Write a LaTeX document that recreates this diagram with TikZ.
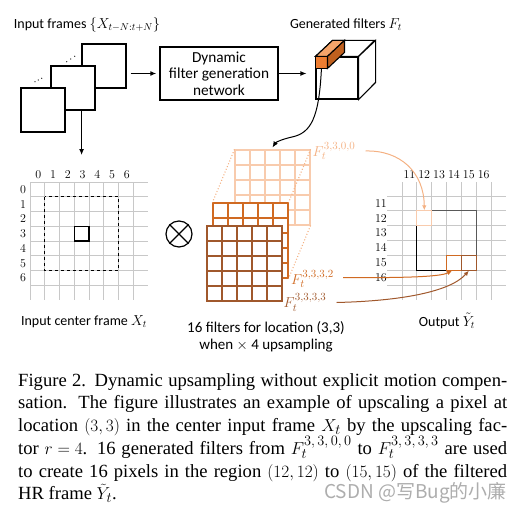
\documentclass[tikz,border=0pt]{standalone}
\usepackage{fontspec}
\setmainfont{Carlito}
\newfontfamily\capfont{Liberation Serif}
\newfontfamily\cjkfont{Noto Sans CJK SC}
\usetikzlibrary{arrows.meta}
\DeclareMathSizes{18.6}{18.6}{15}{11.5}
\DeclareMathSizes{14.5}{14.5}{11.3}{9}
\definecolor{lor}{HTML}{F8CBAD}
\definecolor{lorarr}{HTML}{F4B183}
\definecolor{mor}{HTML}{D06A22}
\definecolor{bor}{HTML}{A0582C}
\definecolor{gridgray}{HTML}{C8C8C8}
\definecolor{barfront}{HTML}{ED7D31}
\definecolor{bartop}{HTML}{F4A46A}
\definecolor{barside}{HTML}{C0601E}
\newcommand\filtgrid[3]{%
  \foreach \k in {1,...,4}{%
    \draw[#3, line width=1.1pt] ({#1+15*\k},#2) -- ({#1+15*\k},{#2+75});
    \draw[#3, line width=1.1pt] (#1,{#2+15*\k}) -- ({#1+75},{#2+15*\k});
  }}
\begin{document}
\begin{tikzpicture}[x=1pt,y=-1pt,
  lbl/.style={font=\fontsize{14}{16.5}\selectfont, inner sep=0},
  num/.style={font=\fontsize{12.3}{12.5}\selectfont, inner sep=0},
  flbl/.style={font=\fontsize{14.5}{16}\selectfont, inner sep=0},
  frame/.style={draw, line width=1.1pt, fill=white, minimum size=44pt, inner sep=0},
  arr/.style={-{Latex[length=6pt,width=5pt]}, line width=1.1pt},
  gridline/.style={draw=gridgray, line width=1pt},
  fbox/.style={minimum size=75pt, inner sep=0, fill=white, line width=1.1pt},
  cell/.style={minimum size=14.85pt, inner sep=0, line width=1.1pt}]
\useasboundingbox (0,0) rectangle (522,511);

% ---- input frames
\node[lbl] (inframes) at (87,25) {Input frames $\{X_{t-N:t+N}\}$};
\node[frame] (fb) at (104,66) {};
\node[frame] (fm) at (73,88) {};
\node[frame] (ff) at (43,110) {};
\foreach \p in {(66.7,61.7),(70.7,59),(74.7,56.3),(35,81.7),(38.3,80),(41.7,78.3)}
  \fill \p circle (0.6);

% ---- network box
\node[draw, line width=1.5pt, minimum width=118pt, minimum height=53pt, align=center, inner sep=0,
  font=\fontsize{15.3}{16.5}\selectfont] (net) at (219,73.5) {Dynamic\\filter generation\\network};
\draw[arr] ([xshift=4pt]fb.east |- net.west) -- ([xshift=-3pt]net.west);

% ---- cube
\node[lbl] (genf) at (346,25) {Generated filters $F_t$};
\node[draw, line width=1.1pt, minimum size=42pt, inner sep=0, fill=white] (cube) at (337,78) {};
\draw[line width=1.1pt, fill=white] (cube.north west) -- ++(17,-16) -- ++(42,0) -- (cube.north east) -- cycle;
\draw[line width=1.1pt, fill=white] (cube.north east) -- ++(17,-16) -- ++(0,42) -- (cube.south east) -- cycle;
\coordinate (b0) at (cube.north west);
\draw[line width=1.1pt, fill=barfront] (b0) rectangle ++(12,12);
\draw[line width=1.1pt, fill=bartop] (b0) -- ++(17,-16) -- ++(12,0) -- ++(-17,16) -- cycle;
\draw[line width=1.1pt, fill=barside] ([xshift=12pt]b0) -- ++(17,-16) -- ++(0,12) -- ++(-17,16) -- cycle;
\coordinate (barbot) at ([xshift=6pt,yshift=-12pt]b0);
\draw[arr] (net.east) -- ([xshift=-9pt]cube.west |- net.east);

% ---- input center frame grid
\foreach \i in {0,...,7}{
  \draw[gridline] ({30+14.75*\i},182) -- ({30+14.75*\i},300);
  \draw[gridline] (30,{182+14.75*\i}) -- (148,{182+14.75*\i});
}
\foreach \i in {0,...,6}{
  \node[num] (c\i) at ({38.4+14.75*\i},174.5) {$\i$};
  \node[num] (r\i) at (23,{189.4+14.75*\i}) {$\i$};
}
\draw[dashed, line width=1pt] (44.75,196.75) rectangle (118.5,270.5);
\draw[line width=1.2pt] (74.25,226.25) rectangle (89,241);
\node[lbl] (inlbl) at (84,322) {Input center frame $X_t$};
\coordinate (dn) at (81.6,155);
\draw[arr] (fm.south -| dn) -- (dn);

% ---- otimes
\node[draw, circle, line width=1.2pt, minimum size=26pt, inner sep=0] (ot) at (179,234) {};
\draw[line width=1.2pt] (ot.north west) -- (ot.south east);
\draw[line width=1.2pt] (ot.north east) -- (ot.south west);

% ---- filter stack
\node[fbox, draw=lor] (gback) at (272.5,187.5) {};
\filtgrid{235}{150}{lor}
\node[fbox, draw=mor] (gmid) at (250.5,240.5) {};
\filtgrid{213}{203}{mor}
\draw[lorarr, line width=1.1pt, dash pattern=on 1pt off 2pt] (gback.north west) -- (gmid.north west);
\draw[lorarr, line width=1.1pt, dash pattern=on 1pt off 2pt] (gback.north east) -- (gmid.north east);
\draw[lorarr, line width=1.1pt, dash pattern=on 1pt off 2pt] (gback.south east) -- (gmid.south east);
\node[fbox, draw=bor] (gfront) at (244.5,263.5) {};
\filtgrid{207}{226}{bor}

\draw[-{Latex[length=6pt,width=5pt]}, line width=1pt] (barbot) .. controls (319,118) and (311,133) .. (292,137) .. controls (283,139) and (276,142) .. ([yshift=2pt]gback.north);

\node[flbl, text=lorarr] (f00) at (334,151) {$F_t^{3,3,0,0}$};
\node[flbl, text=mor] (f32) at (312.5,279) {$F_t^{3,3,3,2}$};
\node[flbl, text=bor] (f33) at (305,302.5) {$F_t^{3,3,3,3}$};
\node[align=center, inner sep=0, font=\fontsize{15}{16.8}\selectfont] (stacklbl) at (266,336.5) {16 filters for location (3,3)\\when $\times$ 4 upsampling};

% ---- output grid
\foreach \i in {0,...,6}{
  \draw[gridline] ({402+14.85*\i},182) -- ({402+14.85*\i},300);
  \draw[gridline] (387,{196+14.85*\i}) -- (506,{196+14.85*\i});
}
\foreach \i [count=\j from 0] in {11,...,16}{
  \node[num] (oc\i) at ({409.4+14.85*\j},175) {$\i$};
  \node[num] (or\i) at (381,{203.4+14.85*\j}) {$\i$};
}
\draw[line width=1.1pt] (416.85,210.85) -- (416.85,270.25) -- (476.25,270.25);
\draw[line width=1.1pt, black!65] (416.85,210.85) -- (476.25,210.85) -- (476.25,270.25);
\node[cell, draw=lor, fill=white] (o1212) at (424.3,218.3) {};
\node[cell, draw=mor] (o1514) at (454,262.8) {};
\node[cell, draw=bor] (o1515) at (468.8,262.8) {};
\node[lbl] (outlbl) at (447,321) {Output $\tilde{Y}_t$};

\draw[-{Latex[length=5pt,width=4.5pt]}, lorarr, line width=1pt] ([xshift=10pt]f00.east) .. controls (400,150) and (424,172) .. (o1212.north);
\draw[-{Latex[length=5pt,width=4.5pt]}, mor, line width=1pt] ([xshift=9pt,yshift=1.5pt]f32.east) .. controls (400,278) and (440,277) .. ([xshift=-2pt]o1514.south);
\draw[-{Latex[length=5pt,width=4.5pt]}, bor, line width=1pt] ([xshift=10pt]f33.east) .. controls (400,301) and (450,292) .. (o1515.south);

% ---- caption
\node[anchor=base west, inner sep=0] (cap) at (18,386) {\parbox[t]{489pt}{\capfont\fontsize{18.6}{22.75}\selectfont\thickmuskip=5mu
\hbox to 489pt{Figure 2. Dynamic upsampling without explicit motion compen-}
\hbox to 489pt{sation.  The figure illustrates an example of upscaling a pixel at}
\hbox to 489pt{location $(3,3)$ in the center input frame $X_t$ by the upscaling fac-}
\hbox to 489pt{tor $r=4$. 16 generated filters from $F_t^{3,\,3,\,0,\,0}$ to $F_t^{3,\,3,\,3,\,3}$ are used}
\hbox to 489pt{to create 16 pixels in the region $(12,12)$ to $(15,15)$ of the filtered}
\hbox{HR frame $\tilde{Y}_t$.}}};
\node[anchor=base east, inner sep=0, text=black!32] (wm) at (507,498) {\cjkfont\fontsize{19}{19}\selectfont CSDN @写Bug的小廉};
\end{tikzpicture}
\end{document}
